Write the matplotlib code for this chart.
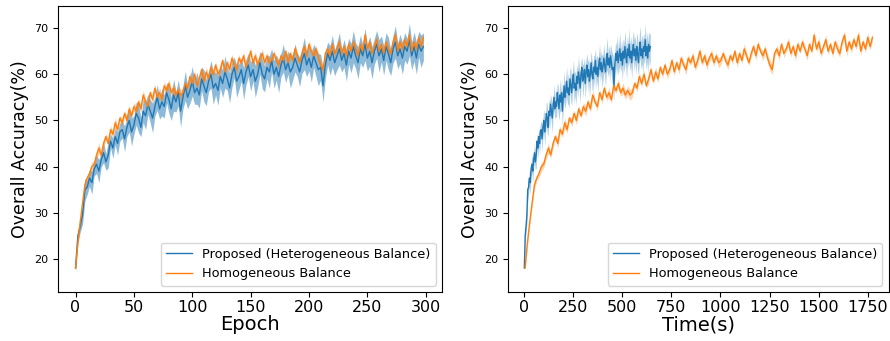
import numpy as np
import matplotlib
matplotlib.use("Agg")
import matplotlib.pyplot as plt


# accuracy every 2 epochs (0, 2, ..., 298)
prop_acc = [18.0, 25.0, 27.0, 29.5, 35.0, 35.5, 37.5, 36.5, 39.5, 40.5,
            39.0, 41.5, 43.0, 41.0, 42.5, 45.5, 44.0, 46.5, 45.0, 47.5,
            48.0, 46.0, 48.5, 50.0, 47.5, 49.0, 51.5, 50.5, 48.5, 52.0,
            51.0, 53.5, 52.0, 50.5, 53.0, 55.0, 52.5, 54.0, 53.0, 56.0,
            54.5, 52.5, 55.5, 54.0, 56.0, 52.0, 55.0, 57.5, 55.0, 56.5,
            58.5, 56.0, 57.0, 55.5, 59.0, 57.5, 56.0, 58.5, 60.0, 57.0,
            58.0, 56.5, 59.5, 58.0, 60.5, 59.0, 57.0, 60.0, 61.5, 58.5,
            59.5, 61.0, 58.0, 60.5, 62.0, 59.5, 61.0, 58.5, 60.0, 62.5,
            60.0, 59.0, 61.5, 60.5, 63.0, 60.0, 61.5, 59.5, 62.0, 63.5,
            61.0, 62.5, 60.5, 61.5, 63.5, 62.0, 60.5, 63.0, 64.5, 62.0,
            63.5, 61.5, 64.0, 62.5, 61.0, 61.5, 57.5, 62.0, 64.5, 63.0,
            65.0, 62.5, 64.0, 65.5, 63.0, 64.5, 62.0, 65.0, 63.5, 66.0,
            64.0, 62.5, 65.5, 64.0, 66.5, 63.5, 65.0, 62.5, 65.0, 66.5,
            64.0, 65.5, 63.0, 66.0, 64.5, 62.5, 65.5, 67.0, 64.0, 65.5,
            63.5, 66.0, 65.0, 67.5, 64.0, 66.0, 63.5, 66.5, 65.0, 66.0]
prop_std = [1.0, 1.5, 1.2, 2.0, 2.5, 1.5, 1.8, 2.5, 1.5, 2.0,
            2.5, 1.5, 2.2, 1.8, 2.8, 1.5, 2.2, 1.8, 2.5, 2.0,
            1.8, 2.8, 2.0, 2.5, 3.0, 2.0, 2.5, 3.2, 2.0, 2.5,
            3.0, 2.2, 2.5, 3.2, 2.0, 2.8, 2.2, 3.0, 2.5, 2.2,
            3.0, 2.5, 3.5, 2.2, 2.8, 3.5, 2.5, 3.2, 2.5, 2.8,
            3.2, 2.5, 3.5, 2.8, 2.5, 3.5, 2.8, 2.2, 3.0, 3.5,
            2.5, 3.2, 2.5, 3.0, 3.5, 2.5, 3.2, 2.8, 2.2, 3.5,
            2.8, 2.5, 3.5, 2.8, 2.5, 3.2, 2.5, 3.5, 2.8, 2.5,
            3.2, 2.8, 2.5, 3.5, 2.5, 3.0, 2.8, 3.5, 2.5, 3.0,
            2.8, 2.5, 3.5, 2.8, 3.0, 2.5, 3.2, 2.8, 3.5, 2.5,
            2.8, 3.2, 2.5, 3.0, 3.5, 2.8, 3.5, 3.0, 2.5, 3.2,
            3.5, 2.8, 3.0, 3.5, 2.5, 3.0, 3.5, 2.8, 3.2, 3.5,
            2.8, 3.5, 3.0, 2.5, 3.5, 2.8, 3.2, 3.5, 2.8, 3.0,
            3.5, 2.8, 3.2, 3.0, 3.5, 2.8, 3.0, 3.5, 2.8, 3.2,
            3.5, 3.0, 2.8, 3.5, 3.0, 3.2, 3.5, 2.8, 3.5, 3.0]

homo_acc = [18.0, 23.5, 28.0, 32.0, 36.0, 37.5, 38.5, 40.0, 40.5, 42.5,
            44.0, 42.5, 45.0, 46.5, 45.0, 48.0, 47.0, 49.5, 48.0, 50.5,
            49.5, 51.5, 50.0, 52.5, 51.0, 53.0, 52.0, 54.0, 52.5, 55.5,
            54.0, 53.0, 56.0, 54.5, 57.0, 55.0, 56.0, 54.5, 57.5, 56.5,
            58.0, 56.0, 57.0, 55.5, 56.5, 55.5, 56.0, 58.0, 57.0, 59.5,
            58.0, 60.0, 57.5, 59.0, 61.0, 58.5, 60.5, 59.0, 61.5, 60.0,
            62.0, 60.0, 61.0, 63.0, 60.5, 62.5, 61.0, 63.5, 62.0, 61.0,
            63.5, 62.5, 64.0, 61.5, 63.0, 65.0, 62.5, 64.0, 62.0, 63.5,
            64.5, 62.5, 64.0, 62.5, 63.0, 64.5, 63.0, 62.0, 64.0, 63.0,
            65.0, 62.5, 64.5, 63.0, 65.5, 64.0, 62.5, 64.5, 66.0, 64.0,
            66.5, 65.0, 64.0, 65.5, 63.5, 62.0, 61.0, 64.5, 65.5, 64.0,
            66.5, 64.5, 65.5, 67.0, 64.5, 66.0, 64.0, 66.5, 65.0, 67.0,
            65.5, 64.0, 66.5, 65.0, 68.5, 65.5, 67.0, 64.5, 66.0, 67.5,
            65.0, 66.5, 64.5, 67.0, 65.5, 64.5, 67.0, 68.5, 65.0, 67.0,
            65.5, 67.5, 66.0, 68.5, 65.0, 67.0, 65.5, 68.0, 66.0, 68.0]
homo_std = [0.5, 0.6, 0.8, 0.7, 0.9, 0.6, 0.8, 1.0, 0.7, 0.9,
            1.1, 0.7, 0.9, 0.6, 1.0, 0.8, 0.7, 1.1, 0.8, 0.6,
            0.9, 0.7, 1.0, 0.8, 0.6, 0.9, 1.1, 0.7, 0.8, 1.0,
            0.7, 0.9, 0.6, 1.0, 0.8, 0.7, 1.1, 0.8, 0.9, 0.7,
            1.0, 0.8, 1.2, 0.9, 1.0, 1.2, 0.9, 0.7, 0.8, 1.0,
            0.7, 0.9, 0.6, 1.0, 0.8, 0.7, 1.1, 0.8, 0.6, 0.9,
            0.7, 1.0, 0.8, 0.6, 0.9, 0.7, 1.0, 0.8, 0.7, 1.1,
            0.8, 0.6, 0.9, 0.7, 1.0, 0.8, 0.7, 0.9, 1.1, 0.7,
            1.0, 0.8, 0.7, 1.1, 0.9, 0.7, 0.8, 1.0, 0.7, 0.9,
            0.6, 1.0, 0.8, 0.7, 1.1, 0.8, 0.6, 0.9, 0.7, 1.0,
            0.8, 0.7, 1.1, 0.8, 0.9, 1.2, 1.0, 0.7, 0.8, 1.0,
            0.7, 0.9, 0.6, 1.0, 0.8, 0.7, 1.1, 0.8, 0.6, 0.9,
            0.7, 1.0, 0.8, 0.6, 0.9, 0.7, 1.0, 0.8, 0.7, 1.1,
            0.8, 0.6, 0.9, 0.7, 1.0, 0.8, 0.7, 0.9, 1.1, 0.7,
            1.0, 0.8, 0.7, 1.1, 0.9, 0.7, 0.8, 1.0, 0.7, 0.9]

epoch_step = 2
prop_sec_per_epoch = 2.15
homo_sec_per_epoch = 5.93

labels = ["Proposed (Heterogeneous Balance)", "Homogeneous Balance"]

prop_acc = np.array(prop_acc)
prop_std = np.array(prop_std)
homo_acc = np.array(homo_acc)
homo_std = np.array(homo_std)
epochs = np.arange(len(prop_acc)) * epoch_step
prop_time = (epochs + 1) * prop_sec_per_epoch
homo_time = (epochs + 1) * homo_sec_per_epoch

blue = "#1f77b4"
orange = "#ff7f0e"

fig = plt.figure(figsize=(8.9, 3.41), dpi=100)
ax1 = fig.add_axes([0.0652, 0.1437, 0.4315, 0.8387])
ax2 = fig.add_axes([0.5708, 0.1437, 0.4280, 0.8387])

# left: vs epoch
ax1.fill_between(epochs, prop_acc - prop_std, prop_acc + prop_std, color=blue, alpha=0.5, lw=0)
ax1.plot(epochs, prop_acc, color=blue, lw=1.0, label=labels[0])
ax1.fill_between(epochs, homo_acc - homo_std, homo_acc + homo_std, color=orange, alpha=0.4, lw=0)
ax1.plot(epochs, homo_acc, color=orange, lw=1.0, label=labels[1])
ax1.set_xlim(-15, 314)
ax1.set_xlabel("Epoch", fontsize=14, labelpad=0)

# right: vs time
ax2.fill_between(prop_time, prop_acc - prop_std, prop_acc + prop_std, color=blue, alpha=0.35, lw=0)
ax2.plot(prop_time, prop_acc, color=blue, lw=1.0, label=labels[0])
ax2.fill_between(homo_time, homo_acc - homo_std, homo_acc + homo_std, color=orange, alpha=0.35, lw=0)
ax2.plot(homo_time, homo_acc, color=orange, lw=1.0, label=labels[1])
ax2.set_xlim(-81, 1857)
ax2.set_xticks([0, 250, 500, 750, 1000, 1250, 1500, 1750])
ax2.set_xlabel("Time(s)", fontsize=14, labelpad=0)

for ax in (ax1, ax2):
    ax.set_ylim(12.8, 74.8)
    ax.set_yticks([20, 30, 40, 50, 60, 70])
    ax.set_ylabel("Overall Accuracy(%)", fontsize=12.5, labelpad=4)
    ax.tick_params(axis="y", labelsize=8)
    ax.tick_params(axis="x", labelsize=11.5, pad=2.5)
    ax.legend(loc="lower right", fontsize=9.3)

fig.savefig("out.png", dpi=100)
